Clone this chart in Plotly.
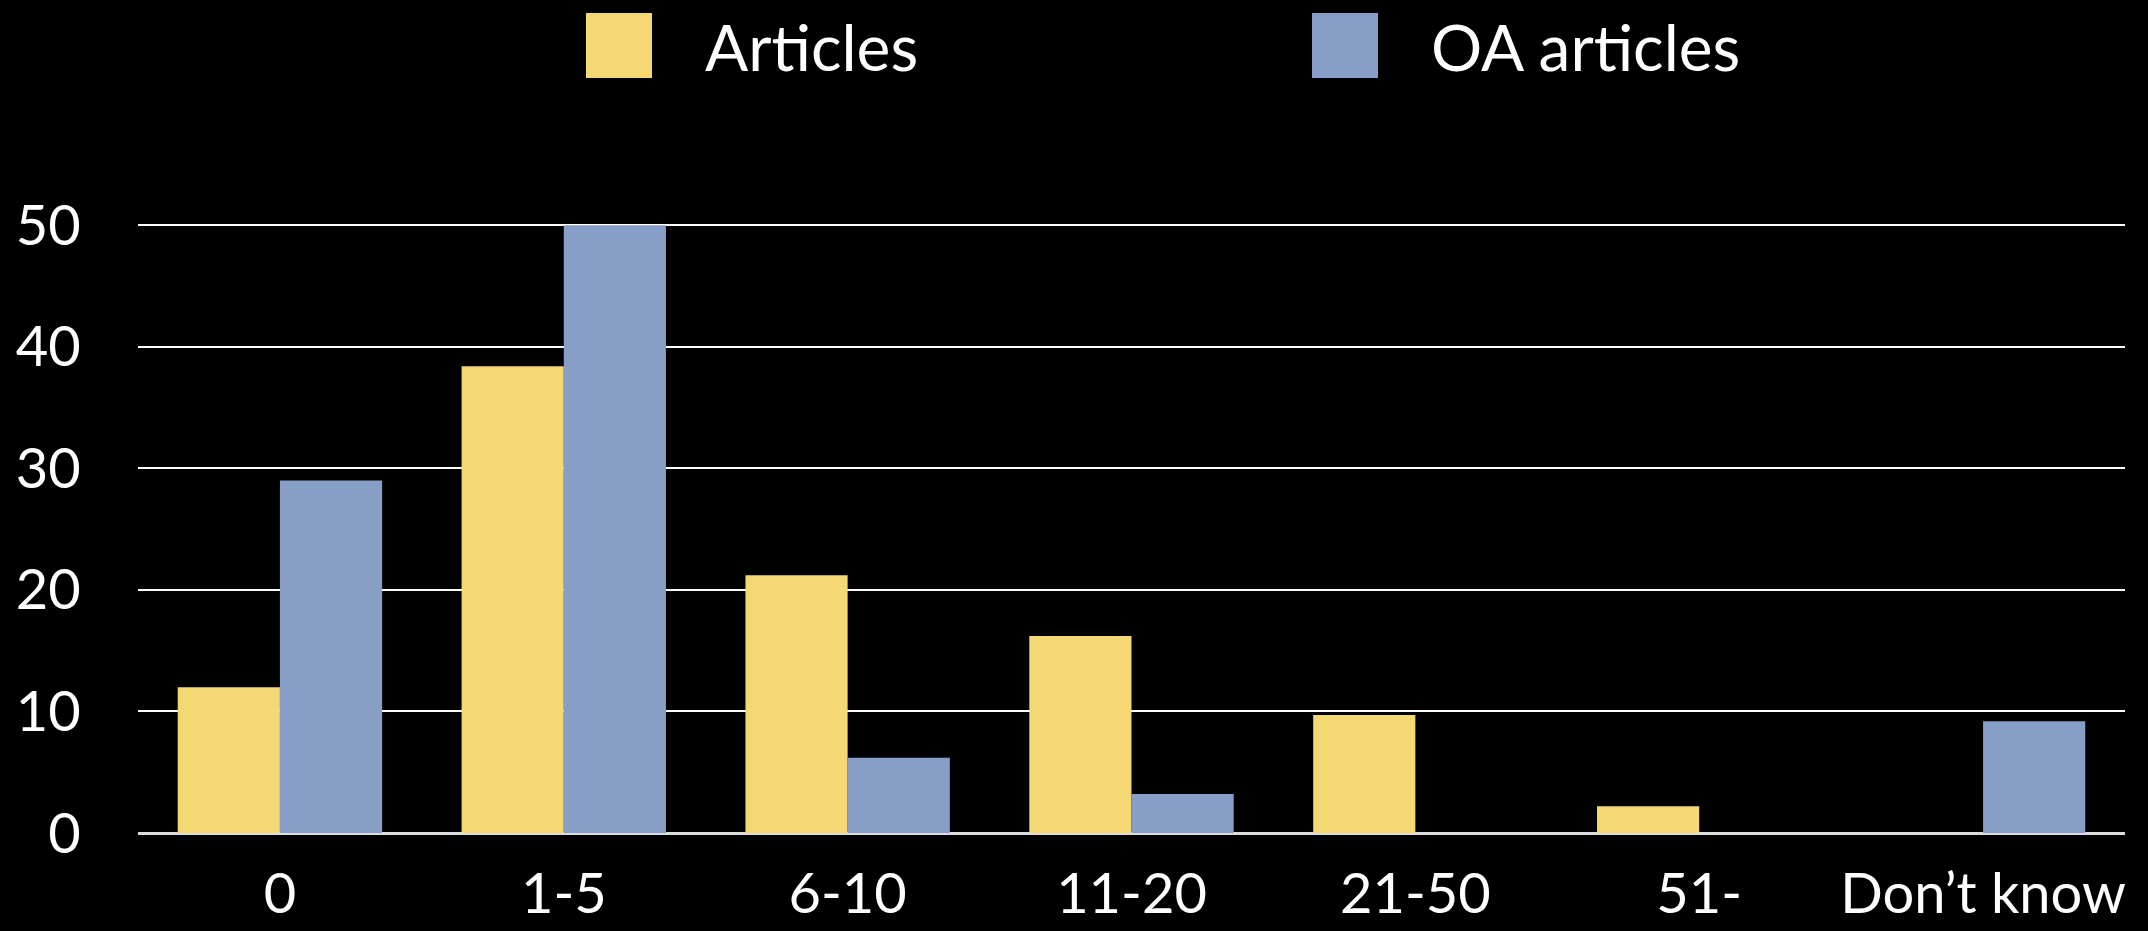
import plotly.graph_objects as go

categories = ["0", "1-5", "6-10", "11-20", "21-50", "51-", "Don’t know"]
articles = [12, 38.4, 21.2, 16.2, 9.7, 2.2, 0]
oa_articles = [29, 50, 6.2, 3.2, 0, 0, 9.2]
y_ticks = [0, 10, 20, 30, 40, 50]

YELLOW = "#F3D874"
BLUE = "#879FC6"
FONT = "Lato"

fig = go.Figure()
fig.add_trace(go.Bar(x=categories, y=articles, name="Articles",
                     marker=dict(color=YELLOW, line=dict(width=0))))
fig.add_trace(go.Bar(x=categories, y=oa_articles, name="OA articles",
                     marker=dict(color=BLUE, line=dict(width=0))))

W, H = 2148, 931
ml, mr, mt, mb = 138, 23, 224, 98

fig.update_layout(
    width=W, height=H,
    paper_bgcolor="black", plot_bgcolor="black",
    margin=dict(l=ml, r=mr, t=mt, b=mb, pad=0),
    barmode="group", bargap=0.28, bargroupgap=0,
    showlegend=False,
    font=dict(family=FONT, color="white", size=56),
)
fig.update_yaxes(range=[0, 50.1], tickvals=y_ticks, showgrid=True,
                 gridcolor="white", gridwidth=2, zeroline=True,
                 zerolinecolor="#DDDDDD", zerolinewidth=3,
                 ticks="outside", ticklen=45, tickcolor="rgba(0,0,0,0)",
                 tickfont=dict(size=56, family=FONT, color="white"),
                 showline=False, automargin=False)
fig.update_xaxes(ticks="outside", ticklen=12, tickcolor="rgba(0,0,0,0)",
                 tickfont=dict(size=56, family=FONT, color="white"),
                 showline=False, showgrid=False, automargin=False)

# custom legend
legend_items = [("Articles", YELLOW, 586, 703), ("OA articles", BLUE, 1312, 1429)]
for name, col, sx, tx in legend_items:
    fig.add_shape(type="rect", xref="paper", yref="paper",
                  x0=(sx - ml) / (W - ml - mr), x1=(sx + 66 - ml) / (W - ml - mr),
                  y0=1 + (mt - 78) / (H - mt - mb), y1=1 + (mt - 13) / (H - mt - mb),
                  fillcolor=col, line=dict(width=0))
    fig.add_annotation(text=name, xref="paper", yref="paper",
                       x=(tx - ml) / (W - ml - mr), y=1 + (mt - 46) / (H - mt - mb),
                       xanchor="left", yanchor="middle", showarrow=False,
                       font=dict(size=64, family=FONT, color="white"))

fig.write_html("out.html")
